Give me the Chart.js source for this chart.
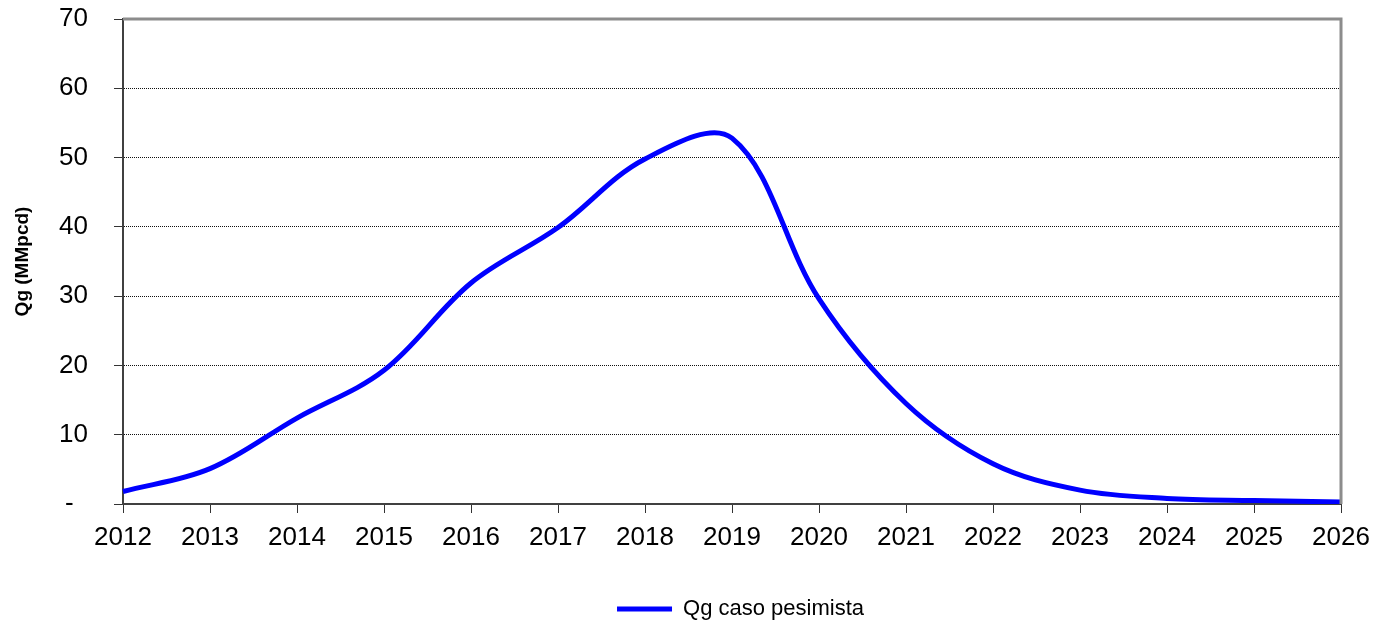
<!DOCTYPE html>
<html>
<head>
<meta charset="utf-8">
<script src="https://cdn.jsdelivr.net/npm/chart.js@4/dist/chart.umd.min.js"></script>
<style>
	html, body { margin: 0; padding: 0; background: #fff; }
	#wrap { width: 1387px; height: 622px; }
</style>
</head>
<body>
<div id="wrap"><canvas id="qgChart" width="1387" height="622"></canvas></div>
<script>
const years = ['2012', '2013', '2014', '2015', '2016', '2017', '2018', '2019', '2020', '2021', '2022', '2023', '2024', '2025', '2026'];
const qgPesimista = [1.8, 5.1, 12.4, 19.3, 31.9, 39.9, 49.8, 52.8, 29.6, 14.5, 5.8, 2.0, 0.8, 0.5, 0.3];
const yTicks = [0, 10, 20, 30, 40, 50, 60, 70];

const fontFamily = 'Arial, "Liberation Sans", sans-serif';

// gray frame on top and right side of the plot area, legend nudged like the original
const plotFrame = {
	id: 'plotFrame',
	afterLayout(chart) {
		const lg = chart.legend;
		lg.left += 70; lg.right += 70;
		lg.top += 12; lg.bottom += 12;
	},
	afterDatasetsDraw(chart) {
		const { ctx, chartArea: a } = chart;
		ctx.save();
		ctx.strokeStyle = '#8c8c8c';
		ctx.lineWidth = 3;
		ctx.beginPath();
		ctx.moveTo(a.left, a.top);
		ctx.lineTo(a.right, a.top);
		ctx.lineTo(a.right, a.bottom);
		ctx.stroke();
		ctx.restore();
	}
};

new Chart('qgChart', {
	type: 'line',
	data: {
		labels: years,
		datasets: [
			{
				label: 'Qg caso pesimista',
				data: qgPesimista,
				borderColor: '#0000ff',
				backgroundColor: '#0000ff',
				borderWidth: 5,
				pointRadius: 0,
				tension: 0.35,
				fill: false
			}
		]
	},
	options: {
		responsive: false,
		animation: false,
		layout: { padding: { top: 19, right: 46, bottom: 4, left: 0 } },
		scales: {
			x: {
				offset: false,
				grid: {
					drawOnChartArea: false,
					drawTicks: true,
					tickLength: 9,
					tickColor: '#333',
					tickWidth: 1
				},
				border: { color: '#404040', width: 2 },
				ticks: {
					color: '#000',
					padding: 9,
					maxRotation: 0,
					autoSkip: false,
					font: { family: fontFamily, size: 26 }
				},
				afterFit: function (s) { s.height = 72 }
			},
			y: {
				min: 0,
				max: 70,
				afterBuildTicks: function (s) { s.ticks = yTicks.map(v => ({ value: v })) },
				grid: {
					color: '#111',
					lineWidth: 1,
					tickLength: 9,
					tickColor: '#333',
					tickBorderDash: []
				},
				border: { color: '#404040', width: 2, dash: [1, 1] },
				ticks: {
					color: '#000',
					padding: 26,
					font: { family: fontFamily, size: 26 },
					callback: function (v) { return v === 0 ? '-  ' : v }
				},
				title: {
					display: true,
					text: 'Qg (MMpcd)',
					color: '#000',
					padding: { top: 11, bottom: 0 },
					font: { family: fontFamily, size: 19, weight: 'bold' }
				},
				afterFit: function (s) {
					s.width = 123;
					s.paddingTop = 0;
					s.paddingBottom = 0;
				}
			}
		},
		plugins: {
			legend: {
				position: 'bottom',
				labels: {
					color: '#000',
					usePointStyle: true,
					pointStyle: 'line',
					pointStyleWidth: 55,
					boxHeight: 10,
					padding: 10,
					font: { family: fontFamily, size: 22 }
				}
			},
			tooltip: { enabled: false }
		}
	},
	plugins: [plotFrame]
});
</script>
</body>
</html>
